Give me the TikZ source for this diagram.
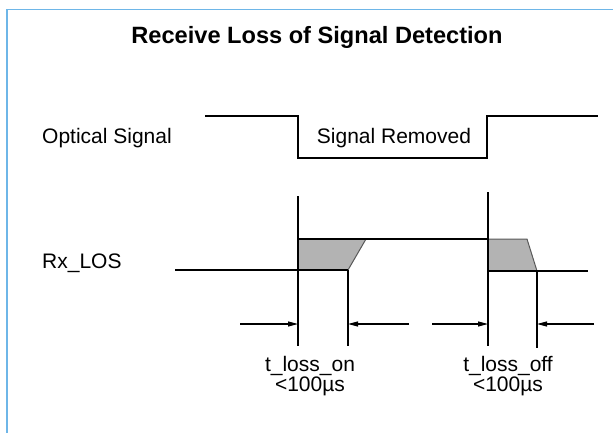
\documentclass[tikz,border=0pt]{standalone}
\usepackage{fontspec}
\setmainfont{Liberation Sans}
\usetikzlibrary{arrows.meta}
\definecolor{frameblue}{RGB}{110,182,232}
\definecolor{shadegray}{RGB}{179,179,179}
\begin{document}
\begin{tikzpicture}[x=1pt,y=-1pt,
  sig/.style={line width=1.2pt, black},
  lbl/.style={font=\fontsize{21}{24}\selectfont, anchor=base, inner sep=0pt},
  dimarrow/.style={line width=1.1pt, -{Triangle[length=10pt,width=5pt]}},
  shadebox/.style={fill=shadegray, draw=black!65, line width=1pt, line join=miter}]
\useasboundingbox (0,0) rectangle (613,433);
% frame
\coordinate (fb) at (7,433);
\coordinate (ftl) at (7,9.5);
\coordinate (ftr) at (613,9.5);
\draw[frameblue, line width=1.5pt] (fb) -- (ftl) -- (ftr);
% title and labels
\node[font=\bfseries\fontsize{23.6}{28}\selectfont, anchor=base, inner sep=0pt] (title) at (317,43.5) {Receive Loss of Signal Detection};
\node[lbl, anchor=base west] (optlbl) at (42,143) {Optical Signal};
\node[lbl, anchor=base west] (rxlbl) at (42,268) {Rx\_LOS};
\node[lbl] (removed) at (394,144) {Signal Removed};
\node[lbl] (ton) at (310,371) {t\_loss\_on};
\node[lbl] (tonv) at (310,391) {<100µs};
\node[lbl] (toff) at (508,371) {t\_loss\_off};
\node[lbl] (toffv) at (508,391) {<100µs};
% optical signal
\coordinate (o1) at (205,116);
\coordinate (o2) at (298,116);
\coordinate (o3) at (298,158);
\coordinate (o4) at (487,158);
\coordinate (o5) at (487,116);
\coordinate (o6) at (598,116);
\draw[sig] (o1) -- (o2) -- (o3) -- (o4) -- (o5) -- (o6);
% Rx_LOS shaded transitions
\coordinate (a1) at (298,239);
\coordinate (a2) at (366,239);
\coordinate (a3) at (348,270);
\coordinate (a4) at (298,270);
\coordinate (b1) at (488,239);
\coordinate (b2) at (527,239);
\coordinate (b3) at (537,271);
\coordinate (b4) at (488,271);
\draw[shadebox] (a1) -- (a2) -- (a3) -- (a4) -- cycle;
\draw[shadebox] (b1) -- (b2) -- (b3) -- (b4) -- cycle;
% Rx_LOS lines
\coordinate (r0) at (175,270);
\coordinate (r9) at (588,271);
\draw[sig] (r0) -- (a3);
\draw[sig] (a1) -- (b1);
\draw[sig] (b4) -- (r9);
% vertical markers
\coordinate (v1t) at (298,196);
\coordinate (v1b) at (298,346);
\coordinate (v2b) at (348,346);
\coordinate (v3t) at (488,192);
\coordinate (v3b) at (488,346);
\coordinate (v4b) at (537,348);
\draw[sig] (v1t) -- (v1b);
\draw[sig] (a3) -- (v2b);
\draw[sig] (v3t) -- (v3b);
\draw[sig] (b3) -- (v4b);
% dimension arrows
\coordinate (d1s) at (240,324);
\coordinate (d1e) at (298,324);
\coordinate (d2s) at (409,324);
\coordinate (d2e) at (348,324);
\coordinate (d3s) at (432,324);
\coordinate (d3e) at (488,324);
\coordinate (d4s) at (594,324);
\coordinate (d4e) at (537,324);
\draw[dimarrow] (d1s) -- (d1e);
\draw[dimarrow] (d2s) -- (d2e);
\draw[dimarrow] (d3s) -- (d3e);
\draw[dimarrow] (d4s) -- (d4e);
\end{tikzpicture}
\end{document}
